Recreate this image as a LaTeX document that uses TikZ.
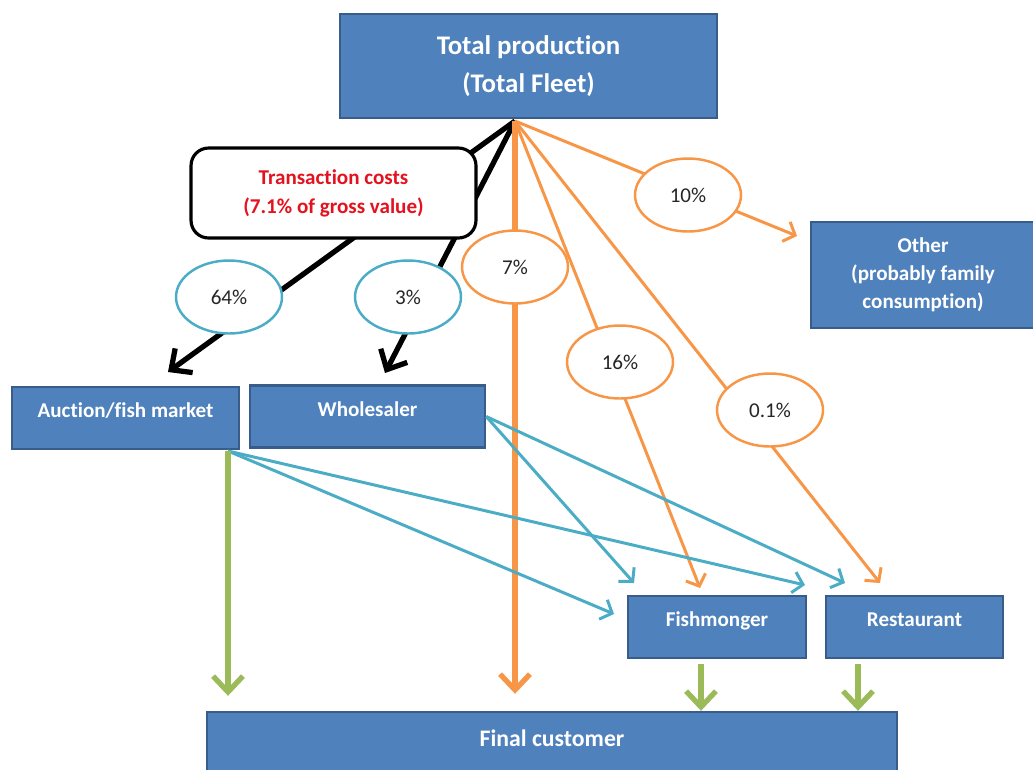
\documentclass[tikz,border=0pt]{standalone}
\usepackage{fontspec}
\setmainfont{Carlito}[Ligatures=NoCommon]
\usepackage{tikz}
\usetikzlibrary{arrows.meta}
\usetikzlibrary{shapes.geometric}

\definecolor{boxblue}{RGB}{79,129,189}
\definecolor{boxline}{RGB}{56,93,138}
\definecolor{flowor}{RGB}{247,150,70}
\definecolor{flowte}{RGB}{75,172,198}
\definecolor{flowgr}{RGB}{155,187,89}
\definecolor{costred}{RGB}{228,18,30}

\begin{document}
\begin{tikzpicture}[x=0.02cm,y=-0.02cm,
		box/.style={rectangle,draw=boxline,line width=1.4pt,fill=boxblue,text=white,
			font=\bfseries\fontsize{12}{16}\selectfont,align=center,inner sep=0pt},
		rowbox/.style={box,minimum height=1.24cm,text depth=0.3cm},
		share/.style={ellipse,draw=#1,line width=1.4pt,fill=white,minimum width=2.12cm,
			minimum height=1.46cm,inner sep=0pt,text=black!85,font=\fontsize{12}{14}\selectfont},
		heavy/.style={line width=3pt,-{Straight Barb[length=9pt,width=17pt]}},
		thin/.style={line width=1.7pt,-{Straight Barb[length=5.5pt,width=12pt]}}]
	\useasboundingbox (0,0) rectangle (1033,769);

	% boxes
	\node[box,minimum width=7.54cm,minimum height=2.08cm,
		font=\bfseries\fontsize{15.3}{22}\selectfont] (total) at (528.5,66) {Total production\\(Total Fleet)};
	\node[box,minimum width=4.48cm,minimum height=2.12cm] (other) at (923,275) {Other\\(probably family\\consumption)};
	\node[rowbox,minimum width=4.54cm] (auction) at (125.5,418) {Auction/fish market};
	\node[rowbox,minimum width=4.70cm] (whole) at (367.5,416.5) {Wholesaler};
	\node[rowbox,minimum width=3.56cm] (fish) at (717,627) {Fishmonger};
	\node[rowbox,minimum width=3.54cm] (rest) at (914.5,627) {Restaurant};
	\node[box,minimum width=13.8cm,minimum height=1.2cm,text depth=0.15cm,
		font=\bfseries\fontsize{13.5}{16}\selectfont] (final) at (552,742) {Final customer};

	\coordinate (src) at (515,121);
	\coordinate (aucout) at (228,451);
	\coordinate (aucin) at (168,372);
	\coordinate (whlin) at (385,373);
	\coordinate (othin) at (797,236);
	\coordinate (fishtop) at (700,588);
	\coordinate (resttop) at (880,583);
	\coordinate (fishout) at (701,664);
	\coordinate (restout) at (858,664);

	% from the fleet
	\draw[heavy] (src) -- (aucin);
	\draw[heavy] (src) -- (whlin);
	\draw[heavy,flowor] (src) -- ([yshift=0.34cm]src |- final.north);
	\draw[thin,flowor] (src) -- (othin);
	\draw[thin,flowor] (src) -- (fishtop);
	\draw[thin,flowor] (src) -- (resttop);

	% traders
	\draw[thin,flowte] (aucout) -- (614,614);
	\draw[thin,flowte] (aucout) -- (805,585);
	\draw[thin,flowte] (whole.east) -- (634,583);
	\draw[thin,flowte] (whole.east) -- (845,583);

	% to the customer
	\draw[heavy,flowgr] (aucout) -- ([yshift=0.3cm]aucout |- final.north);
	\draw[heavy,flowgr] (fishout) -- (fishout |- final.north);
	\draw[heavy,flowgr] (restout) -- (restout |- final.north);

	% labels
	\node[draw=black,line width=1.8pt,rounded corners=10pt,fill=white,text=costred,
		font=\bfseries\fontsize{12}{16.5}\selectfont,align=center,
		minimum width=5.7cm,minimum height=1.8cm] (cost) at (333.5,193) {Transaction costs\\(7.1\% of gross value)};
	\node[share=flowte] (p64) at (229,297) {64\%};
	\node[share=flowte] (p3) at (408,297) {3\%};
	\node[share=flowor] (p7) at (515,267) {7\%};
	\node[share=flowor] (p10) at (688,195) {10\%};
	\node[share=flowor] (p16) at (620,362) {16\%};
	\node[share=flowor] (p01) at (770,410) {0.1\%};
\end{tikzpicture}
\end{document}
